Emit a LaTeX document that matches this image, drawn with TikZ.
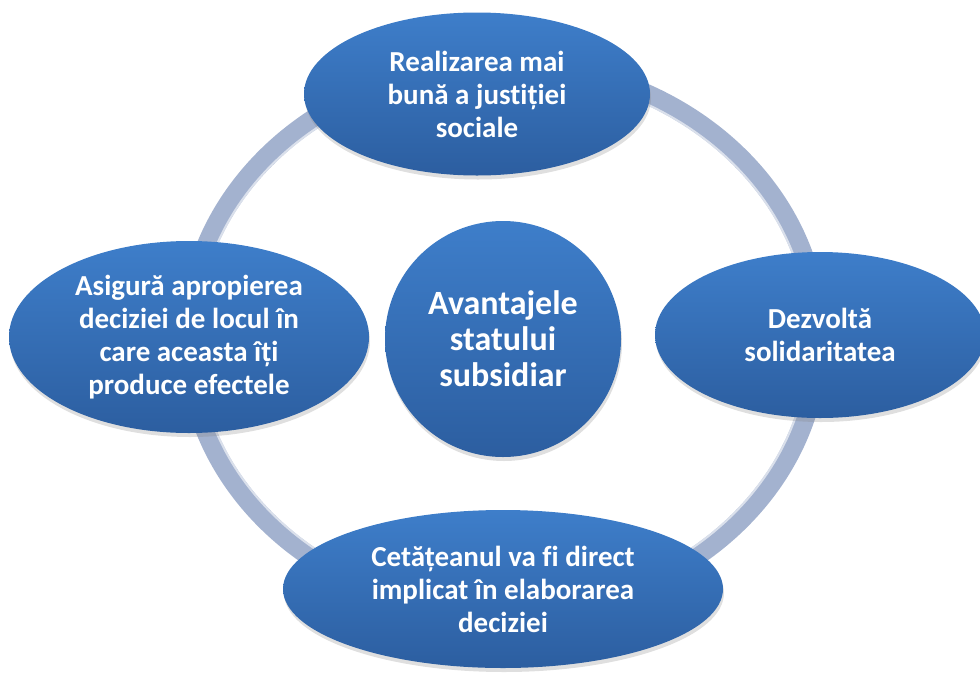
\documentclass[tikz,border=0pt]{standalone}
\usepackage{fontspec}
\setmainfont{Carlito}[Ligatures=NoCommon]
\usetikzlibrary{
    shapes.geometric,
    backgrounds,
    shadows
}
\definecolor{bilasus}{RGB}{62, 126, 202}
\definecolor{bilajos}{RGB}{44, 94, 160}
\definecolor{inelgri}{RGB}{163, 178, 207}

\begin{document}
\begin{tikzpicture}[
        x=1pt, y=-1pt,
        bila/.style={ellipse, top color=bilasus, bottom color=bilajos, text=white, align=center, inner sep=0pt,
            font=\bfseries\fontsize{29}{33}\selectfont,
            drop shadow={opacity=0.25, shadow xshift=1pt, shadow yshift=-4pt}},
        inel/.style={line width=20pt, draw=inelgri}
    ]
        \useasboundingbox (0, 0) rectangle (980, 673);

        % Center
        \node[bila, circle, minimum size=236pt, font=\bfseries\fontsize{34}{36}\selectfont] (centru) at (503, 339) {
            Avantajele\\
            statului\\
            subsidiar
        };

        % Around the ring
        \node[bila, minimum width=346pt, minimum height=163pt] (sus) at (477, 94) {
            Realizarea mai\\
            bună a justiției\\
            sociale
        };

        \node[bila, minimum width=330pt, minimum height=166pt] (dreapta) at (820, 335) {
            Dezvoltă\\
            solidaritatea
        };

        \node[bila, minimum width=440pt, minimum height=158pt] (jos) at (503, 589) {
            Cetățeanul va fi direct\\
            implicat în elaborarea\\
            deciziei
        };

        \node[bila, minimum width=360pt, minimum height=192pt] (stanga) at (189, 337) {
            Asigură apropierea\\
            deciziei de locul în\\
            care aceasta îți\\
            produce efectele
        };

        % Ring behind everything
        \begin{pgfonlayer}{background}
            \draw[inel] (centru.center) ellipse [x radius=315, y radius=275];
            \draw[white, opacity=0.6, line width=2pt] (centru.center) ellipse [x radius=306, y radius=266];
        \end{pgfonlayer}
    \end{tikzpicture}
\end{document}
